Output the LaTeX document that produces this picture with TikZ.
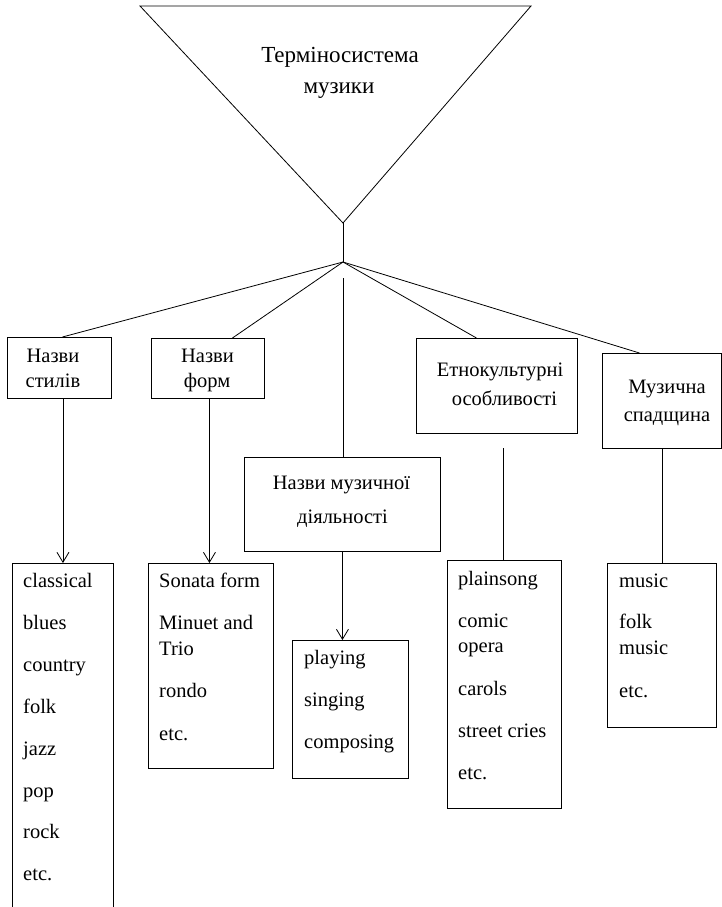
\documentclass[tikz,border=0pt]{standalone}
\usepackage{fontspec}
\setmainfont{Liberation Serif}
\usetikzlibrary{arrows.meta}
\tikzset{
  box/.style={draw, line width=0.9pt, inner sep=0pt, anchor=north west},
  lbl/.style={inner sep=0pt, anchor=base, font=\fontsize{20.5}{25}\selectfont},
  item/.style={inner sep=0pt, anchor=base west, font=\fontsize{20.5}{25}\selectfont},
  ttl/.style={inner sep=0pt, anchor=base, font=\fontsize{23}{28}\selectfont},
  conn/.style={line width=0.8pt},
  arr/.style={conn, -{Straight Barb[length=10pt,width=12pt]}}
}
\begin{document}
\begin{tikzpicture}[x=1pt,y=-1pt]
\useasboundingbox (0,0) rectangle (722,907);
\clip (0,0) rectangle (722,907);
% triangle
\coordinate (tl) at (140,6);
\coordinate (tr) at (531,6);
\coordinate (apex) at (343,223);
\coordinate (br) at (343,262);
\coordinate (cstart) at (343,278);
\coordinate (dstart) at (503,448);
\draw[conn, line join=miter] (tl) -- (tr) -- (apex) -- cycle;
\node[ttl] (t1) at (340,63) {Терміносистема};
\node[ttl] (t2) at (339,93) {музики};
% header boxes
\node[box, minimum width=104pt, minimum height=61pt] (A) at (7,337) {};
\node[box, minimum width=113pt, minimum height=60pt] (B) at (151,338) {};
\node[box, minimum width=196pt, minimum height=94pt] (C) at (244,457) {};
\node[box, minimum width=161pt, minimum height=95pt] (D) at (416,338) {};
\node[box, minimum width=119pt, minimum height=95pt] (E) at (602,353) {};
\node[lbl] (a1) at (53,362) {Назви};
\node[lbl] (a2) at (53,387) {стилів};
\node[lbl] (b1) at (207.5,362) {Назви};
\node[lbl] (b2) at (207,387) {форм};
\node[lbl] (c1) at (341.5,489) {Назви музичної};
\node[lbl] (c2) at (342.5,523) {діяльності};
\node[lbl] (d1) at (500,376) {Етнокультурні};
\node[lbl] (d2) at (504.5,405) {особливості};
\node[lbl] (e1) at (667,393) {Музична};
\node[lbl] (e2) at (667,421) {спадщина};
% list boxes
\node[box, minimum width=101pt, minimum height=360pt] (F) at (12,563) {};
\node[box, minimum width=125pt, minimum height=205pt] (G) at (148,563) {};
\node[box, minimum width=116pt, minimum height=138pt] (H) at (292,640) {};
\node[box, minimum width=114pt, minimum height=248pt] (I) at (447,560) {};
\node[box, minimum width=109pt, minimum height=164pt] (J) at (607,563) {};
\foreach \t/\y [count=\i] in {classical/587, blues/629, country/671, folk/713, jazz/755, pop/797, rock/838, etc./880}
  \node[item] (f\i) at (23,\y) {\t};
\foreach \t/\y [count=\i] in {Sonata form/587, Minuet and/629, Trio/655, rondo/697, etc./740}
  \node[item] (g\i) at (159,\y) {\t};
\foreach \t/\y [count=\i] in {playing/664, singing/706, composing/748}
  \node[item] (h\i) at (304,\y) {\t};
\foreach \t/\y [count=\i] in {plainsong/585, comic/627, opera/652, carols/695, street cries/737, etc./779}
  \node[item] (i\i) at (458,\y) {\t};
\foreach \t/\y [count=\i] in {music/587, folk/628, music/654, etc./697}
  \node[item] (j\i) at (619,\y) {\t};
% connectors
\draw[conn] (apex) -- (br);
\draw[conn] (br) -- ([xshift=3pt]A.north);
\draw[conn] (br) -- ([xshift=24.5pt]B.north);
\draw[conn] (cstart) -- (cstart |- C.north);
\draw[conn] (br) -- ([xshift=-20.5pt]D.north);
\draw[conn] (br) -- ([xshift=-22.5pt]E.north);
\draw[arr] (A.south -| F.north) -- (F.north);
\draw[arr] ([xshift=-1.5pt]B.south -| G.north) -- ([xshift=-1.5pt]G.north);
\draw[arr] (C.south) -- (C.south |- H.north);
\draw[conn] (dstart) -- (dstart |- I.north);
\draw[conn] (E.south) -- (E.south |- J.north);
\end{tikzpicture}
\end{document}
